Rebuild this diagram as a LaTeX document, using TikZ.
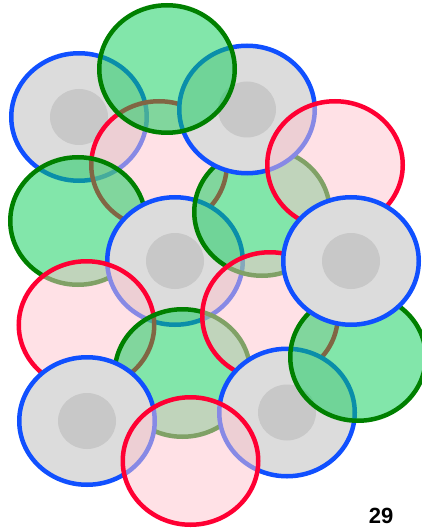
\documentclass[tikz,border=0pt]{standalone}
\usepackage{fontspec}
\setsansfont{Liberation Sans}
\usetikzlibrary{shapes.geometric}
\definecolor{rimblue}{HTML}{1050FF}
\definecolor{rimred}{HTML}{FF0033}
\definecolor{rimgreen}{HTML}{008000}
\definecolor{cellgray}{HTML}{DCDCDC}
\definecolor{nucgray}{HTML}{C8C8C8}
\definecolor{cellpink}{HTML}{FFC3CD}
\definecolor{cellmint}{HTML}{05CD55}

\begin{document}
\begin{tikzpicture}[x=1pt, y=-1pt, line width=4.5pt,
    cell/.style={ellipse, inner sep=0pt, outer sep=0pt,
                 minimum width=135.5pt, minimum height=127.5pt},
    gcell/.style={cell, draw=rimblue, fill=cellgray,
                  path picture={\fill[nucgray] (path picture bounding box.center) ellipse (29pt and 28pt);}},
    pcell/.style={cell, draw=rimred, fill=cellpink, fill opacity=0.5, draw opacity=1},
    mcell/.style={cell, draw=rimgreen, fill=cellmint, fill opacity=0.5, draw opacity=1}]
    \useasboundingbox (0,0) rectangle (422,529);

    % back to front
    \node[gcell] (g1) at (79,117)    {};
    \node[pcell] (p1) at (159,165)   {};
    \node[mcell] (m1) at (78,221)    {};
    \node[gcell] (g3) at (175,261)   {};
    \node[mcell] (m2) at (262,212)   {};
    \node[gcell] (g2) at (247,109.5) {};
    \node[mcell] (m0) at (167,69)    {};
    \node[pcell] (p2) at (335,165)   {};
    \node[pcell] (p3) at (86.5,325)  {};
    \node[mcell] (m3) at (182.5,373) {};
    \node[pcell] (p4) at (270,316)   {};
    \node[gcell] (g6) at (287,412.5) {};
    \node[mcell] (m4) at (358,357)   {};
    \node[gcell] (g4) at (351,261)   {};
    \node[gcell] (g5) at (87,421)    {};
    \node[pcell] (p5) at (190.5,461) {};

    \node[anchor=base, inner sep=0pt, font=\sffamily\bfseries\fontsize{22}{22}\selectfont]
      (pg) at (381,523) {29};
\end{tikzpicture}
\end{document}
